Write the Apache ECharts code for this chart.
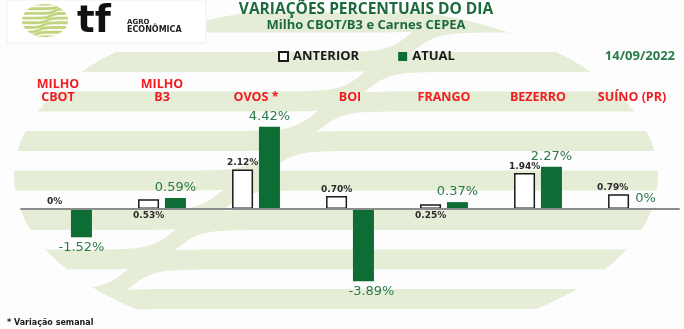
<!DOCTYPE html>
<html><head><meta charset="utf-8">
<script src="https://cdn.jsdelivr.net/npm/echarts@6/dist/echarts.min.js"></script>
<style>html,body{margin:0;padding:0;background:#fdfdfd;}#c{width:684px;height:329px;}</style>
</head><body><div id="c"></div>
<script>
// ---------- data ----------
const categories = ['MILHO\nCBOT', 'MILHO\nB3', 'OVOS *', 'BOI', 'FRANGO', 'BEZERRO', 'SUÍNO (PR)'];
const anterior = [0, 0.53, 2.12, 0.70, 0.25, 1.94, 0.79];
const atual = [-1.52, 0.59, 4.42, -3.89, 0.37, 2.27, 0];
const seriesNames = ['ANTERIOR', 'ATUAL'];
const titleText = 'VARIAÇÕES PERCENTUAIS DO DIA';
const subtitleText = 'Milho CBOT/B3 e Carnes CEPEA';
const dateText = '14/09/2022';
const footnoteText = '* Variação semanal';

// ---------- helpers ----------
const W = 684, H = 329;
const PAGE_BG = '#fdfdfd';
function pct(v) { return v === 0 ? '0%' : v.toFixed(2) + '%'; }

function stripeGraphics(o) {
  const els = [];
  const x0 = o.cx - o.rx - 2, x1 = o.cx + o.rx + 2;
  const yMin = o.cy - o.ry - 1, yMax = o.cy + o.ry + 1;
  o.levels.forEach(function (L) {
    const c = o.cFn(L - o.P / 2);
    const top = [], bot = [];
    for (let x = x0; x <= x1 + 0.001; x += o.step) {
      const yc = L - o.P / (1 + Math.exp(-(x - c) / o.k));
      top.push([x, Math.max(yMin, Math.min(yMax, yc - o.T / 2))]);
      bot.push([x, Math.max(yMin, Math.min(yMax, yc + o.T / 2))]);
    }
    els.push({ type: 'polygon', silent: true, z: o.z, shape: { points: top.concat(bot.reverse()) }, style: { fill: o.color } });
  });
  // keyhole mask: rectangle minus ellipse
  const [mx0, my0, mx1, my1] = o.maskRect;
  const pts = [[mx0, o.cy], [mx0, my0], [mx1, my0], [mx1, my1], [mx0, my1], [mx0, o.cy]];
  const N = 160;
  for (let i = 0; i <= N; i++) {
    const th = Math.PI - (2 * Math.PI * i) / N;
    pts.push([o.cx + o.rx * Math.cos(th), o.cy + o.ry * Math.sin(th)]);
  }
  els.push({ type: 'polygon', silent: true, z: o.z + 1, shape: { points: pts }, style: { fill: o.maskColor } });
  return els;
}

const bigP = 39.5;
const bigLevels = [];
for (let L = 62 - 2 * bigP; L <= 345; L += bigP) bigLevels.push(L);
const bgEls = stripeGraphics({
  cx: 336, cy: 176, rx: 322, ry: 170, P: bigP, T: 20, k: 12, step: 4,
  levels: bigLevels, cFn: function (y) { return 343 - (y - 100) * 1.2; },
  color: '#e5edd7', maskColor: PAGE_BG, maskRect: [-2, -2, W + 2, H + 2], z: -20
});

const logoP = 4.7;
const logoLevels = [];
for (let L = 4 - 2 * logoP; L <= 42; L += logoP) logoLevels.push(L);
const logoEls = stripeGraphics({
  cx: 45, cy: 20.5, rx: 23, ry: 16.5, P: logoP, T: 2.9, k: 2.5, step: 0.5,
  levels: logoLevels, cFn: function (y) { return 47 - (y - 20.5) * 0.8; },
  color: '#c2d47e', maskColor: '#ffffff', maskRect: [20, 3, 70, 38], z: 12
});

function txt(x, y, text, font, fill, align, valign, z) {
  return { type: 'text', x: x, y: y, z: z || 20, silent: true,
    style: { text: text, font: font, fill: fill, align: align, verticalAlign: valign, textAlign: align, textVerticalAlign: valign } };
}

const graphics = [].concat(
  bgEls,
  [{ type: 'rect', silent: true, z: 10, shape: { x: 7, y: 0, width: 199, height: 43 }, style: { fill: '#ffffff', stroke: '#efefef', lineWidth: 1 } }],
  logoEls,
  [
    txt(77, 22, 'tf', 'bold 37px "DejaVu Sans"', '#111111', 'left', 'middle', 20),
    txt(127, 22.5, 'AGRO', 'bold 7px "DejaVu Sans"', '#222222', 'left', 'middle', 20),
    txt(127, 29.5, 'ECONÔMICA', 'bold 8px "DejaVu Sans"', '#222222', 'left', 'middle', 20),
    txt(366, 10, titleText, 'bold 15.5px "Open Sans"', '#1d6b3c', 'center', 'middle', 20),
    txt(366, 25, subtitleText, 'bold 13px "Open Sans"', '#1d6b3c', 'center', 'middle', 20),
    txt(675, 56, dateText, 'bold 13px "Open Sans"', '#2b7a4b', 'right', 'middle', 20),
    txt(7, 323, footnoteText, 'bold 8px "DejaVu Sans"', '#1a1a1a', 'left', 'middle', 20)
  ]
);

const catFont = { fontFamily: 'Open Sans', fontWeight: 'bold', fontSize: 12.5, color: '#f01c22', lineHeight: 13 };

const option = {
  animation: false,
  backgroundColor: PAGE_BG,
  grid: { left: 21, right: 5, top: 116, bottom: 27, containLabel: false, outerBoundsMode: 'none' },
  legend: {
    left: 273, top: 45, itemWidth: 9, itemHeight: 9, itemGap: 39, icon: 'rect',
    data: seriesNames,
    textStyle: { fontFamily: 'Open Sans', fontWeight: 'bold', fontSize: 13, color: '#1a1a1a' }
  },
  xAxis: [
    { type: 'category', data: categories, position: 'bottom',
      axisLine: { onZero: true, lineStyle: { color: '#8c8c8c', width: 2 } },
      axisTick: { show: false }, axisLabel: { show: false }, splitLine: { show: false }, z: 3 },
    { type: 'category', data: categories, position: 'top',
      axisLine: { show: false, onZero: false }, axisTick: { show: false }, splitLine: { show: false },
      axisLabel: Object.assign({ margin: 12, interval: 0,
        formatter: function (v, i) {
          return v.split('\n').map(function (s) { return '{' + (i === 0 ? 'a' : 'b') + '|' + s + '}'; }).join('\n');
        },
        rich: { a: Object.assign({ padding: [0, 20, 0, 0] }, catFont), b: Object.assign({}, catFont) }
      }, catFont) }
  ],
  yAxis: { type: 'value', min: -5, max: 5, show: false, splitLine: { show: false } },
  series: [
    { name: seriesNames[0], type: 'bar', xAxisIndex: 0, barWidth: 21, barGap: '28%',
      itemStyle: { color: '#ffffff', borderColor: '#1a1a1a', borderWidth: 1.5 },
      label: { show: true, formatter: function (p) { return pct(p.value); }, fontFamily: 'DejaVu Sans', fontWeight: 'bold', fontSize: 9, color: '#2a2a2a', distance: 2 },
      data: anterior.map(function (v, i) {
        return { value: v, label: { position: (i === 1 || i === 4) ? 'bottom' : 'top', offset: i === 6 ? [-6, 0] : [0, 0] } };
      }) },
    { name: seriesNames[1], type: 'bar', xAxisIndex: 0, barWidth: 21,
      itemStyle: { color: '#0d6d34' },
      label: { show: true, formatter: function (p) { return pct(p.value); }, fontFamily: 'DejaVu Sans', fontSize: 13, color: '#2b7a4b', distance: 4 },
      data: atual.map(function (v, i) {
        return { value: v, label: { position: v < 0 ? 'bottom' : 'top', offset: i === 3 ? [8, 0] : [0, 0] } };
      }) }
  ],
  graphic: { elements: graphics }
};

const chart = echarts.init(document.getElementById('c'), null, { renderer: 'canvas', width: W, height: H });
chart.setOption(option);
</script>
</body></html>
